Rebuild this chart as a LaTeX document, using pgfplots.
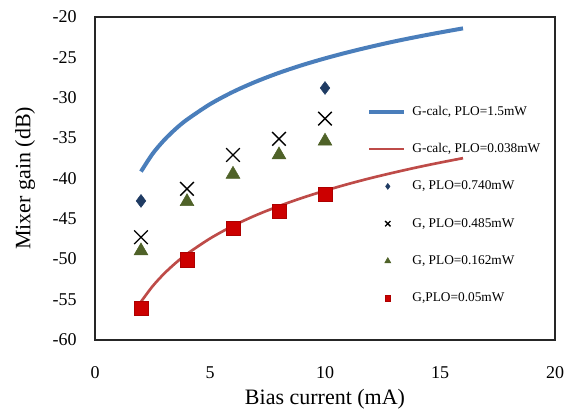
\documentclass[border=0pt]{standalone}
\usepackage{pgfplots}
\pgfplotsset{compat=1.18}
\usepackage{fontspec}
\setmainfont{Liberation Serif}

\definecolor{calcblue}{HTML}{4A7EBB}
\definecolor{calcred}{HTML}{BE4B48}
\definecolor{navy}{HTML}{1F3B63}
\definecolor{olive}{HTML}{4F6228}
\definecolor{sqred}{HTML}{CC0000}
\definecolor{frame}{HTML}{262626}

\pgfplotsset{
  lineleg/.style={legend image code/.code={\draw[##1] (0pt,0pt)--(26pt,0pt);}},
  markleg/.style={legend image code/.code={\draw[##1,mark size=#1] plot coordinates {(14pt,0pt)};}},
}

\begin{document}
\begin{tikzpicture}
\begin{axis}[
  name=ax,
  scale only axis,
  width=345pt,height=242pt,
  xmin=0,xmax=20,ymin=-60,ymax=-20,
  xtick={0,5,...,20},ytick={-60,-55,...,-20},
  major tick length=0pt,
  axis line style={line width=1.5pt,draw=frame},
  clip=false,
  tick label style={font=\fontsize{13.5}{15}\selectfont},
  /pgf/number format/assume math mode=true,
  xticklabel style={anchor=center,yshift=-25pt},
  yticklabel style={anchor=east,inner sep=0pt,xshift=-13.5pt},
  xlabel={Bias current (mA)},
  ylabel={Mixer gain (dB)},
  label style={font=\fontsize{16.5}{18}\selectfont},
  xlabel style={at={(axis description cs:0.5,-0.185)},anchor=center},
  ylabel style={at={(axis description cs:-0.152,0.5)},anchor=center},
  legend cell align=left,
  legend style={at={(axis description cs:0.591,0.73)},anchor=north west,
    draw=none,fill=none,inner sep=0pt,row sep=17pt,column sep=4pt,
    font=\fontsize{10}{11}\selectfont,
    nodes={inner sep=1pt,text height=7pt,text depth=2pt}},
]
\draw[frame,line width=1.5pt] (rel axis cs:0,0) -- (rel axis cs:1,0) -- (rel axis cs:1,1) -- (rel axis cs:0,1) -- cycle;
\addplot[calcblue,line width=3pt,smooth,lineleg]
  coordinates {(2,-39.16) (2.5,-36.97) (3,-35.28) (3.5,-33.89) (4,-32.72)
  (5,-30.81) (6,-29.28) (7,-28.01) (8,-26.92) (9,-25.97) (10,-25.13)
  (11,-24.37) (12,-23.68) (13,-23.04) (14,-22.46) (15,-21.92) (16,-21.41)};
\addlegendentry{G-calc, PLO=1.5mW}
\addplot[calcred,line width=2pt,smooth,lineleg]
  coordinates {(2,-55.3) (2.5,-53.39) (3,-51.83) (3.5,-50.51) (4,-49.37)
  (5,-47.46) (6,-45.89) (7,-44.57) (8,-43.44) (9,-42.43) (10,-41.53)
  (11,-40.71) (12,-39.96) (13,-39.28) (14,-38.64) (15,-38.05) (16,-37.5)};
\addlegendentry{G-calc, PLO=0.038mW}
\addplot[only marks,mark=diamond*,mark size=4.8pt,draw=navy,fill=navy,markleg=2.2pt]
  coordinates {(2,-42.8) (10,-28.8)};
\addlegendentry{G, PLO=0.740mW}
\addplot[only marks,mark=x,mark size=7.2pt,black,line width=1pt,markleg=2.8pt]
  coordinates {(2,-47.3) (4,-41.3) (6,-37.1) (8,-35.1) (10,-32.6)};
\addlegendentry{G, PLO=0.485mW}
\addplot[only marks,mark=triangle*,mark size=6pt,draw=olive,fill=olive,markleg=2.6pt]
  coordinates {(2,-49.0) (4,-42.9) (6,-39.5) (8,-37.1) (10,-35.4)};
\addlegendentry{G, PLO=0.162mW}
\addplot[only marks,mark=square*,mark size=5.3pt,draw=sqred!85!black,fill=sqred,line width=0.4pt,markleg=2.2pt]
  coordinates {(2,-56.1) (4,-50.1) (6,-46.2) (8,-44.1) (10,-42.0)};
\addlegendentry{G,PLO=0.05mW}
\end{axis}
\pgfresetboundingbox
\path ([xshift=-71.25pt,yshift=-56.25pt]ax.south west) rectangle ([xshift=11.25pt,yshift=12.75pt]ax.north east);
\end{tikzpicture}
\end{document}
